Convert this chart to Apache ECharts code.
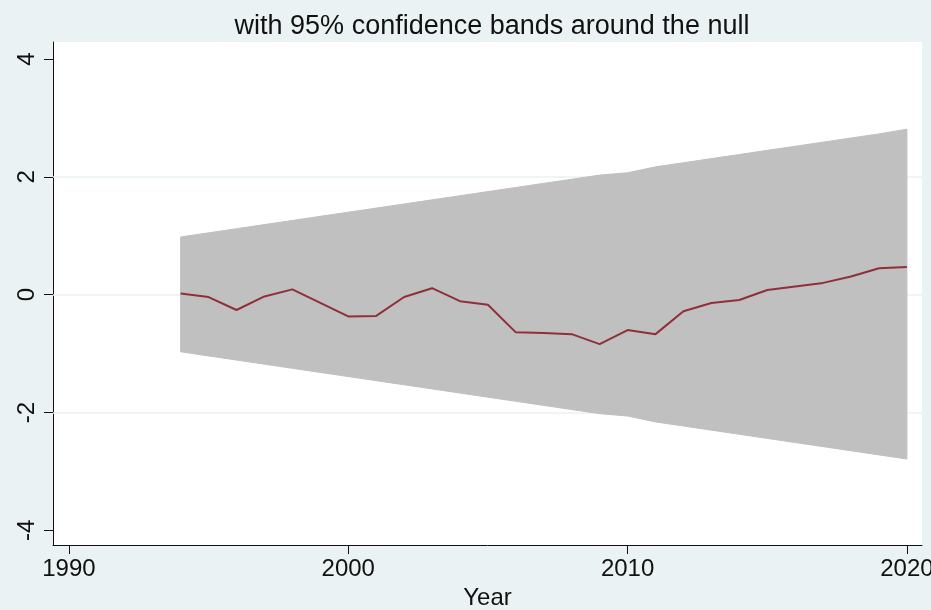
<!DOCTYPE html>
<html>
<head>
<meta charset="utf-8">
<script src="https://cdn.jsdelivr.net/npm/echarts@6/dist/echarts.min.js"></script>
<style>
  html, body { margin: 0; padding: 0; background: #eaf2f3; }
  #chart { width: 931px; height: 610px; }
</style>
</head>
<body>
<div id="chart"></div>
<script>
// years and values
const years = [1994, 1995, 1996, 1997, 1998, 1999, 2000, 2001, 2002, 2003, 2004, 2005, 2006,
  2007, 2008, 2009, 2010, 2011, 2012, 2013, 2014, 2015, 2016, 2017, 2018, 2019, 2020]
const estimate = [0.02, -0.04, -0.26, -0.03, 0.09, -0.14, -0.37, -0.36, -0.04, 0.11, -0.11, -0.17, -0.64,
  -0.65, -0.67, -0.84, -0.60, -0.67, -0.28, -0.14, -0.09, 0.08, 0.14, 0.20, 0.31, 0.45, 0.47]
const upperBand = [0.98, 1.05, 1.12, 1.19, 1.26, 1.33, 1.40, 1.47, 1.54, 1.61, 1.68, 1.75, 1.82,
  1.89, 1.96, 2.03, 2.07, 2.17, 2.24, 2.31, 2.38, 2.45, 2.52, 2.59, 2.66, 2.73, 2.81]
const lowerBand = [-0.97, -1.04, -1.11, -1.18, -1.25, -1.32, -1.39, -1.46, -1.53, -1.60, -1.67, -1.74, -1.81,
  -1.88, -1.95, -2.02, -2.06, -2.16, -2.23, -2.30, -2.37, -2.44, -2.51, -2.58, -2.65, -2.72, -2.79]
const xTicks = [1990, 2000, 2010, 2020]
const yTicks = [-4, -2, 0, 2, 4]
const gridValues = [-2, 0, 2]

const font = 'Liberation Sans'
const chart = echarts.init(document.getElementById('chart'))

// band polygon: upper edge left to right, then lower edge back
const bandRender = (params, api) => {
  const pts = []
  years.forEach((y, i) => pts.push(api.coord([y, upperBand[i]])))
  for (let i = years.length - 1; i >= 0; i--) pts.push(api.coord([years[i], lowerBand[i]]))
  return {
    type: 'polygon',
    shape: { points: pts },
    style: { fill: '#c0c0c0', stroke: '#c0c0c0', lineWidth: 1, lineJoin: 'round' }
  }
}

const option = {
  backgroundColor: '#eaf2f3',
  animation: false,
  title: {
    text: 'with 95% confidence bands around the null',
    left: 487,
    textAlign: 'center',
    top: 8,
    textStyle: { fontFamily: font, fontSize: 27, fontWeight: 'normal', color: '#111' }
  },
  grid: {
    left: 53, right: 9, top: 42, bottom: 65,
    outerBoundsMode: 'none',
    containLabel: false,
    show: true, backgroundColor: '#fff', borderWidth: 0
  },
  xAxis: {
    type: 'value',
    min: 1989.43,
    max: 2020.54,
    name: 'Year',
    nameLocation: 'middle',
    nameGap: 40,
    nameTextStyle: { fontFamily: font, fontSize: 24, color: '#111' },
    axisLine: { show: true, onZero: false, lineStyle: { color: '#111', width: 1 } },
    axisTick: { show: true, length: 9, customValues: xTicks, lineStyle: { color: '#111' } },
    axisLabel: {
      customValues: xTicks, margin: 12, formatter: v => String(v),
      fontFamily: font, fontSize: 24, color: '#111'
    },
    splitLine: { show: false }
  },
  yAxis: {
    type: 'value',
    min: -4.25,
    max: 4.29,
    axisLine: { show: true, lineStyle: { color: '#111', width: 1 } },
    axisTick: { show: true, length: 9, customValues: yTicks, lineStyle: { color: '#111' } },
    axisLabel: {
      customValues: yTicks, rotate: 90, margin: 14, formatter: v => String(v),
      fontFamily: font, fontSize: 24, color: '#111'
    },
    splitLine: { show: false }
  },
  series: [
    {
      // horizontal grid lines behind the band
      type: 'line',
      data: [],
      silent: true,
      z: 1,
      markLine: {
        silent: true,
        z: 1,
        symbol: 'none',
        label: { show: false },
        lineStyle: { color: '#eaf2f3', width: 1.5, type: 'solid' },
        data: gridValues.map(v => ({ yAxis: v }))
      }
    },
    {
      type: 'custom',
      renderItem: bandRender,
      data: [0],
      silent: true,
      z: 2
    },
    {
      type: 'line',
      data: years.map((y, i) => [y, estimate[i]]),
      symbol: 'none',
      lineStyle: { color: '#902f38', width: 2 },
      z: 4
    }
  ]
}
chart.setOption(option)
</script>
</body>
</html>
